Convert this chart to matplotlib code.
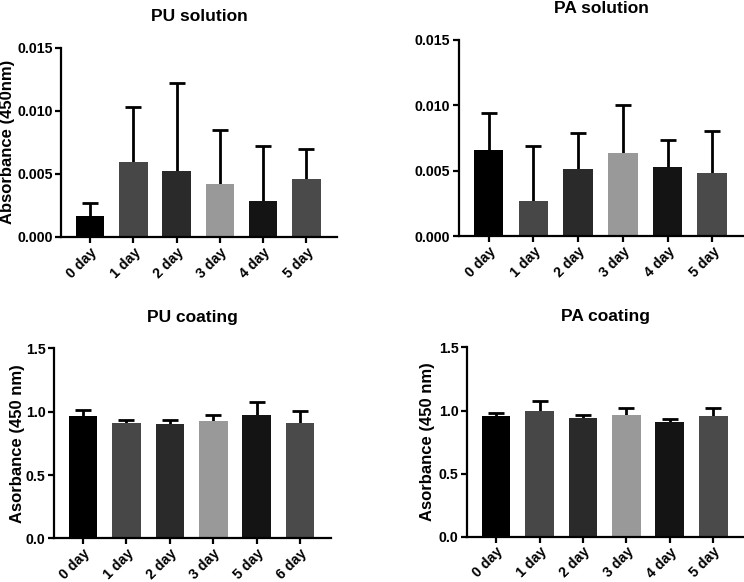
import matplotlib
matplotlib.use('Agg')
import matplotlib.pyplot as plt
import numpy as np

plt.rcParams['font.family'] = ['Liberation Sans', 'DejaVu Sans']
plt.rcParams['font.weight'] = 'bold'

# 数据（从图中读取的均值和上误差）
days_a = ['0 day', '1 day', '2 day', '3 day', '4 day', '5 day']
days_pu_coat = ['0 day', '1 day', '2 day', '3 day', '5 day', '6 day']

pu_sol_mean = [0.00164, 0.0059, 0.00524, 0.00418, 0.00288, 0.00458]
pu_sol_sd = [0.00101, 0.00439, 0.00693, 0.00426, 0.00434, 0.00238]

pa_sol_mean = [0.00661, 0.0027, 0.00513, 0.00633, 0.00526, 0.0048]
pa_sol_sd = [0.00278, 0.00416, 0.00278, 0.00367, 0.00209, 0.00321]

pu_coat_mean = [0.966, 0.911, 0.903, 0.926, 0.971, 0.911]
pu_coat_sd = [0.047, 0.023, 0.031, 0.048, 0.105, 0.094]

pa_coat_mean = [0.956, 0.998, 0.937, 0.961, 0.911, 0.953]
pa_coat_sd = [0.024, 0.079, 0.030, 0.058, 0.019, 0.066]

bar_colors = ['#000000', '#474747', '#2a2a2a', '#999999', '#141414', '#4a4a4a']

sol_ticks = [0.0, 0.005, 0.010, 0.015]
sol_tick_labels = ['0.000', '0.005', '0.010', '0.015']
coat_ticks = [0.0, 0.5, 1.0, 1.5]
coat_tick_labels = ['0.0', '0.5', '1.0', '1.5']

fig = plt.figure(figsize=(7.44, 5.82), dpi=100)


def draw_panel(rect, labels, mean, sd, title, yticks, yticklabels, ylabel, ylabel_x):
    ax = fig.add_axes(rect)
    x = np.arange(len(labels))
    mean = np.array(mean)
    sd = np.array(sd)
    # 只画向上的误差线，去掉下端的帽
    eb = ax.errorbar(x, mean, yerr=[np.zeros_like(sd), sd], fmt='none',
                     ecolor='black', elinewidth=2, capsize=6, capthick=2, zorder=1)
    eb[1][0].set_visible(False)
    ax.bar(x, mean, width=0.66, color=bar_colors, zorder=2)
    ax.set_xlim(-0.67, 5.71)
    ax.set_ylim(yticks[0], yticks[-1])
    ax.set_yticks(yticks)
    ax.set_yticklabels(yticklabels)
    ax.set_xticks(x)
    ax.set_xticklabels(labels, rotation=45, ha='right', rotation_mode='anchor')
    for side in ['top', 'right']:
        ax.spines[side].set_visible(False)
    for side in ['left', 'bottom']:
        ax.spines[side].set_linewidth(1.6)
    ax.tick_params(axis='both', width=1.6, length=4, labelsize=10.2, pad=2)
    for lab in ax.get_xticklabels() + ax.get_yticklabels():
        lab.set_fontweight('bold')
    ax.set_title(title, fontsize=12.5, fontweight='bold', pad=19)
    if ylabel:
        ax.set_ylabel(ylabel, fontsize=12, fontweight='bold')
        ax.yaxis.set_label_coords(ylabel_x, 0.5)
    return ax


draw_panel([0.082, 0.593, 0.371, 0.325], days_a, pu_sol_mean, pu_sol_sd,
           'PU solution', sol_ticks, sol_tick_labels, 'Absorbance (450nm)', -0.167)
draw_panel([0.6165, 0.5945, 0.3835, 0.337], days_a, pa_sol_mean, pa_sol_sd,
           'PA solution', sol_ticks, sol_tick_labels, None, None)
draw_panel([0.0726, 0.075, 0.372, 0.3265], days_pu_coat, pu_coat_mean, pu_coat_sd,
           'PU coating', coat_ticks, coat_tick_labels, 'Asorbance (450 nm)', -0.105)
draw_panel([0.6277, 0.078, 0.3723, 0.325], days_a, pa_coat_mean, pa_coat_sd,
           'PA coating', coat_ticks, coat_tick_labels, 'Asorbance (450 nm)', -0.1155)

fig.savefig('out.png', dpi=100)
